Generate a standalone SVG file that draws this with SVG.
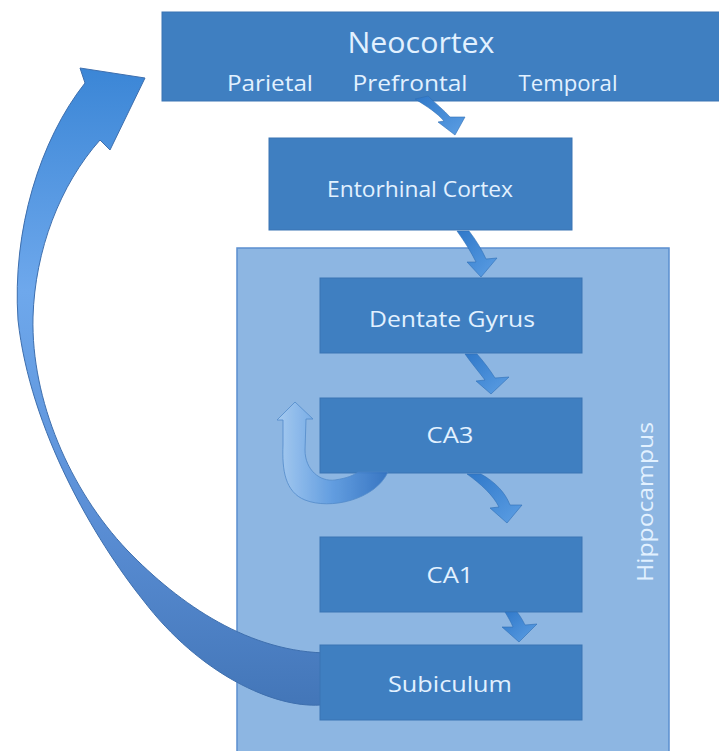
<svg xmlns="http://www.w3.org/2000/svg" width="719" height="751" viewBox="0 0 719 751">
<defs>
<style>
.box{fill:#3f7fc1;stroke:#3a74b3;stroke-width:1}
.lbl{font-family:"Open Sans","Liberation Sans",sans-serif;fill:#e2f1ff;text-anchor:middle}
.sa{fill:url(#gs);stroke:#2f6fb5;stroke-width:0.6}
</style>
<linearGradient id="gbig" x1="0" y1="0" x2="0" y2="1">
<stop offset="0" stop-color="#3b86d6"/>
<stop offset="0.35" stop-color="#6ea8ec"/>
<stop offset="0.7" stop-color="#5b8fd6"/>
<stop offset="1" stop-color="#4376b8"/>
</linearGradient>
<linearGradient id="gs" x1="0" y1="0" x2="1" y2="1">
<stop offset="0" stop-color="#2f78c9"/>
<stop offset="1" stop-color="#5d9fe4"/>
</linearGradient>
<linearGradient id="gloop" x1="0" y1="0" x2="1" y2="0">
<stop offset="0" stop-color="#a9cdf2"/>
<stop offset="0.5" stop-color="#5e9be0"/>
<stop offset="1" stop-color="#2f6fbf"/>
</linearGradient>
</defs>
<rect width="719" height="751" fill="#ffffff"/>

<g id="hippocampus">
<rect x="237" y="248" width="432" height="510" fill="#8db6e2" stroke="#5b8fcf" stroke-width="1.5"/>
<text class="lbl" x="0" y="0" font-size="21" textLength="160" lengthAdjust="spacingAndGlyphs" transform="translate(653,502) rotate(-90)">Hippocampus</text>
</g>

<g id="connectors">
<path id="loop-back" d="M330,705 L320,705 C275,708 200,675 143,600 C95,540 30,430 18,320 C12,230 40,140 85,83 L80,68 L145,78 L110,150 L100,140 C60,185 35,250 33,317 C31,400 70,490 127,550 C180,605 250,653 330,653 Z" fill="url(#gbig)" stroke="#3e6fae" stroke-width="1"/>
</g>

<g id="neocortex">
<rect class="box" x="162" y="12" width="560" height="89"/>
<text class="lbl" x="421" y="53" font-size="29" textLength="147" lengthAdjust="spacingAndGlyphs">Neocortex</text>
<text class="lbl" x="270" y="91" font-size="22" textLength="86" lengthAdjust="spacingAndGlyphs">Parietal</text>
<text class="lbl" x="410" y="91" font-size="22" textLength="115" lengthAdjust="spacingAndGlyphs">Prefrontal</text>
<text class="lbl" x="568" y="91" font-size="22" textLength="99" lengthAdjust="spacingAndGlyphs">Temporal</text>
</g>
<g id="entorhinal">
<rect class="box" x="269" y="138" width="303" height="92"/>
<text class="lbl" x="420" y="197" font-size="21" textLength="186" lengthAdjust="spacingAndGlyphs">Entorhinal Cortex</text>
</g>
<g id="dentate">
<rect class="box" x="320" y="278" width="262" height="75"/>
<text class="lbl" x="452" y="327" font-size="21" textLength="166" lengthAdjust="spacingAndGlyphs">Dentate Gyrus</text>
</g>
<g id="ca3">
<rect class="box" x="320" y="398" width="262" height="75"/>
<text class="lbl" x="450" y="443" font-size="21" textLength="47" lengthAdjust="spacingAndGlyphs">CA3</text>
</g>
<g id="ca1">
<rect class="box" x="320" y="537" width="262" height="75"/>
<text class="lbl" x="450" y="583" font-size="21" textLength="47" lengthAdjust="spacingAndGlyphs">CA1</text>
</g>
<g id="subiculum">
<rect class="box" x="320" y="645" width="262" height="75"/>
<text class="lbl" x="450" y="692" font-size="21" textLength="124" lengthAdjust="spacingAndGlyphs">Subiculum</text>
</g>

<g id="arrows">
<path class="sa" d="M415,99 L428,96 C436,104 444,110 450,117 L465,117 L455,135 L438,122 L444,121 C437,113 428,107 415,99 Z"/>
<path class="sa" d="M457,231 L469,231 C476,240 482,250 486,259 L497,258 L481,277 L467,262 L476,262 C471,252 465,242 457,231 Z"/>
<path class="sa" d="M465,354 L477,354 C484,362 490,370 495,378 L509,377 L491,394 L476,381 L485,380 C479,372 472,364 465,354 Z"/>
<path class="sa" d="M467,474 L481,474 C495,482 505,492 510,505 L522,505 L507,523 L490,508 L499,507 C493,495 481,484 467,474 Z"/>
<path class="sa" d="M505,612 L517,612 C521,617 523,621 525,625 L537,624 L519,642 L502,627 L513,627 C511,622 508,617 505,612 Z"/>
<path id="ca3-loop" d="M388,472 C375,500 330,510 305,500 C285,492 282,470 283,445 L283,420 L277,420 L295,402 L313,419 L306,419 L305,450 C305,470 320,482 335,480 C348,478 354,475 358,472 Z" fill="url(#gloop)" stroke="#4d86c8" stroke-width="0.8" opacity="0.9"/>
</g>
</svg>
